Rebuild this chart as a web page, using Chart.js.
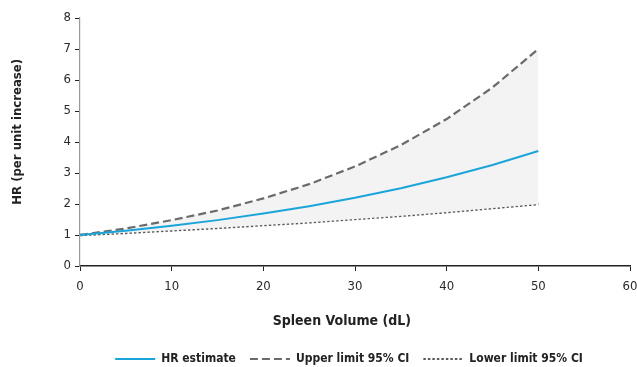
<!DOCTYPE html>
<html>
<head>
<meta charset="utf-8">
<script src="https://cdn.jsdelivr.net/npm/chart.js@4.4.1/dist/chart.umd.min.js"></script>
<style>
  html, body { margin: 0; padding: 0; background: #fff; }
  #wrap { width: 637px; height: 367px; }
</style>
</head>
<body>
<div id="wrap"><canvas id="myChart" width="637" height="367"></canvas></div>
<script>
// spleen volume (dL) and hazard ratios
const volumes = [0, 5, 10, 15, 20, 25, 30, 35, 40, 45, 50];
const hrEstimate = [1.00, 1.14, 1.30, 1.48, 1.69, 1.93, 2.20, 2.51, 2.86, 3.26, 3.71];
const upperCI = [1.00, 1.21, 1.48, 1.79, 2.18, 2.64, 3.21, 3.90, 4.74, 5.76, 7.00];
const lowerCI = [1.00, 1.07, 1.15, 1.23, 1.32, 1.41, 1.52, 1.62, 1.74, 1.87, 2.00];

const xTicks = [0, 10, 20, 30, 40, 50, 60];
const yTicks = [0, 1, 2, 3, 4, 5, 6, 7, 8];

const FONT = "'DejaVu Sans Condensed', 'Liberation Sans Narrow', sans-serif";
const toPoints = ys => volumes.map((v, i) => ({ x: v, y: ys[i] }));

const data = {
    datasets: [
        {
            label: 'HR estimate',
            data: toPoints(hrEstimate),
            borderColor: '#1aa5da',
            backgroundColor: '#1aa5da',
            borderWidth: 2,
            pointRadius: 0,
            fill: false,
            order: 0
        },
        {
            label: 'Upper limit 95% CI',
            data: toPoints(upperCI),
            borderColor: '#6b6b6b',
            backgroundColor: '#f3f3f3',
            borderWidth: 2.2,
            borderDash: [8, 4],
            pointRadius: 0,
            fill: '+1',
            order: 1
        },
        {
            label: 'Lower limit 95% CI',
            data: toPoints(lowerCI),
            borderColor: '#5c5c5c',
            backgroundColor: '#5c5c5c',
            borderWidth: 2.6,
            borderDash: [2.5, 2],
            pointRadius: 0,
            fill: false,
            order: 2
        }
    ]
};

// 凡例を少し右へずらす
const shiftLegend = {
    id: 'shiftLegend',
    afterLayout(chart) {
        chart.legend.left += 34;
        chart.legend.right += 34;
    }
};

const config = {
    type: 'line',
    data,
    options: {
        responsive: false,
        animation: false,
        layout: { padding: { left: 0, right: 7, top: 18, bottom: 0 } },
        plugins: {
            legend: {
                position: 'bottom',
                maxHeight: 28,
                labels: {
                    usePointStyle: true,
                    pointStyle: 'line',
                    pointStyleWidth: 40,
                    padding: 14,
                    color: '#222',
                    font: { family: FONT, size: 12, weight: 'bold' },
                    generateLabels: chart => Chart.defaults.plugins.legend.labels.generateLabels(chart).map(item => {
                        const ds = chart.data.datasets[item.datasetIndex];
                        return { ...item, pointStyle: 'line', strokeStyle: ds.borderColor, lineWidth: 2, lineDash: ds.borderDash || [] };
                    })
                }
            },
            tooltip: { enabled: false }
        },
        scales: {
            x: {
                type: 'linear',
                min: 0,
                max: 60,
                afterBuildTicks: axis => { axis.ticks = xTicks.map(v => ({ value: v })); },
                afterFit: axis => {
                    axis.height = 73;
                    axis.paddingRight = 0;
                },
                grid: { drawOnChartArea: false, tickLength: 5, color: '#222' },
                border: { color: '#222', width: 1.5 },
                ticks: { color: '#2a2a2a', padding: 8, font: { family: FONT, size: 13 } },
                title: {
                    display: true,
                    text: 'Spleen Volume (dL)      ',
                    color: '#222',
                    padding: { top: 0, bottom: 9 },
                    font: { family: FONT, size: 14, weight: 'bold' }
                }
            },
            y: {
                min: 0,
                max: 8,
                afterBuildTicks: axis => { axis.ticks = yTicks.map(v => ({ value: v })); },
                afterFit: axis => { axis.width = 80; },
                grid: { drawOnChartArea: false, tickLength: 5, color: '#222' },
                border: { color: '#999', width: 1.2 },
                ticks: { color: '#2a2a2a', padding: 4, font: { family: FONT, size: 13 } },
                title: {
                    display: true,
                    text: '     HR (per unit increase)',
                    color: '#222',
                    padding: { top: 10, bottom: 0 },
                    font: { family: FONT, size: 13, weight: 'bold' }
                }
            }
        }
    },
    plugins: [shiftLegend]
};

const myChart = new Chart(document.getElementById('myChart'), config);
</script>
</body>
</html>
